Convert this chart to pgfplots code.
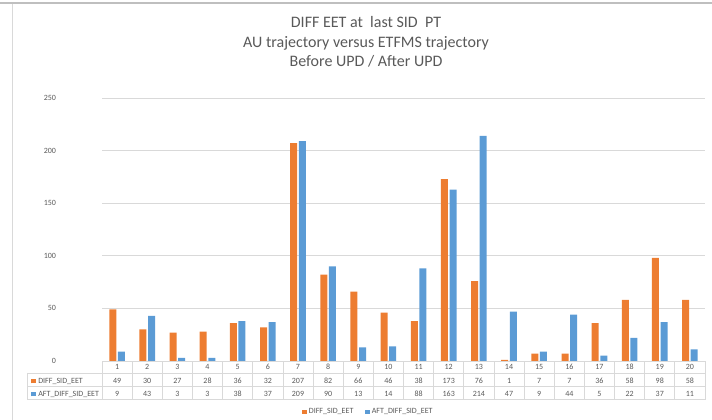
\documentclass[border=0pt]{standalone}
\usepackage{fontspec}
\setmainfont{Carlito}
\usepackage{pgfplots}
\usepackage{pgfplotstable}
\pgfplotsset{compat=1.18}

\definecolor{txtgray}{HTML}{595959}
\definecolor{gridgray}{HTML}{D9D9D9}
\definecolor{framegray}{HTML}{BFBFBF}
\definecolor{eetorange}{HTML}{ED7D31}
\definecolor{eetblue}{HTML}{5B9BD5}

% x = SID index, diff = before update, aft = after update
\pgfplotstableread{
x  diff aft
1  49   9
2  30   43
3  27   3
4  28   3
5  36   38
6  32   37
7  207  209
8  82   90
9  66   13
10 46   14
11 38   88
12 173  163
13 76   214
14 1    47
15 7    9
16 7    44
17 36   5
18 58   22
19 98   37
20 58   11
}\eetdata

\newcommand{\smallfont}{\fontsize{8}{9.6}\selectfont}

% one row of the data table under the axis, read from a column
\pgfplotsset{
  tablerow/.style={
    forget plot, only marks, mark=*, mark size=0pt,
    scatter/use mapped color={draw=none, fill=none},
    mark options={draw=none, fill=none},
    point meta=explicit symbolic, nodes near coords,
    every node near coord/.append style={anchor=base, yshift=#1, inner sep=0pt,
      font=\smallfont, text=txtgray},
  },
}

\begin{document}
\begin{tikzpicture}
\path[use as bounding box] (0,0) rectangle (712pt,420pt);
% chart frame
\draw[framegray, line width=2.3pt] (0,416.85pt) -- (712pt,416.85pt);
\draw[gridgray, line width=1pt] (12.3pt,415.7pt) -- (12.3pt,0);

\begin{axis}[
  at={(102pt,59pt)}, anchor=south west,
  scale only axis, width=603pt, height=263pt,
  xmin=0.5, xmax=20.5, ymin=0, ymax=250,
  clip=false,
  axis line style={draw=none},
  xtick=\empty,
  extra x ticks={0.5,1.5,...,20.5},
  extra x tick labels={},
  extra x tick style={grid=none},
  tick pos=left, tick align=outside,
  major tick length=38.5pt,
  xtick style={draw=gridgray, line width=0.8pt},
  ytick={0,50,...,250},
  ytick style={draw=none},
  ymajorgrids,
  grid style={draw=gridgray, line width=0.8pt},
  /pgf/number format/assume math mode=true,
  yticklabel style={font=\smallfont, text=txtgray, xshift=-4pt},
  legend style={at={(0.442,-0.194)}, anchor=center, draw=none,
    legend columns=2, font=\smallfont, text=txtgray,
    /tikz/every even column/.append style={column sep=10pt}},
  legend image code/.code={\fill[#1] (0pt,-2.2pt) rectangle (4.4pt,2.2pt);},
]
\addplot[ybar, bar width=7pt, bar shift=-4.3pt, fill=eetorange, draw=none]
  table[x=x, y=diff] {\eetdata};
\addlegendentry{DIFF\_SID\_EET}
\addplot[ybar, bar width=7pt, bar shift=4.3pt, fill=eetblue, draw=none]
  table[x=x, y=aft] {\eetdata};
\addlegendentry{AFT\_DIFF\_SID\_EET}

% data table rows
\addplot[tablerow=-8.3pt] table[x=x, y expr=0, meta=x] {\eetdata};
\addplot[tablerow=-22.3pt] table[x=x, y expr=0, meta=diff] {\eetdata};
\addplot[tablerow=-35.3pt] table[x=x, y expr=0, meta=aft] {\eetdata};

% table rules
\draw[gridgray, line width=0.8pt]
  ([xshift=-74.5pt, yshift=-12pt]rel axis cs:0,0) -- ([yshift=-12pt]rel axis cs:1,0)
  ([xshift=-74.5pt, yshift=-25.5pt]rel axis cs:0,0) -- ([yshift=-25.5pt]rel axis cs:1,0)
  ([xshift=-74.5pt, yshift=-38.5pt]rel axis cs:0,0) -- ([yshift=-38.5pt]rel axis cs:1,0)
  ([xshift=-74.5pt, yshift=-12pt]rel axis cs:0,0) -- ([xshift=-74.5pt, yshift=-38.5pt]rel axis cs:0,0);
\node[anchor=base west, inner sep=0pt, font=\smallfont, text=txtgray]
  at ([xshift=-71pt, yshift=-22.3pt]rel axis cs:0,0)
  {\textcolor{eetorange}{\rule{4.4pt}{4.4pt}}\hspace{2.7pt}DIFF\_SID\_EET};
\node[anchor=base west, inner sep=0pt, font=\smallfont, text=txtgray]
  at ([xshift=-71pt, yshift=-35.3pt]rel axis cs:0,0)
  {\textcolor{eetblue}{\rule{4.4pt}{4.4pt}}\hspace{2.7pt}AFT\_DIFF\_SID\_EET};
\end{axis}

% title
\begin{scope}[every node/.style={anchor=base, text=txtgray, font=\fontsize{16}{19}\selectfont}]
\node at (366pt,392.7pt) {DIFF EET at\ \ last SID\ \ PT};
\node at (366pt,372.7pt) {AU trajectory versus ETFMS trajectory};
\node at (366pt,353.3pt) {Before UPD / After UPD};
\end{scope}
\end{tikzpicture}
\end{document}
